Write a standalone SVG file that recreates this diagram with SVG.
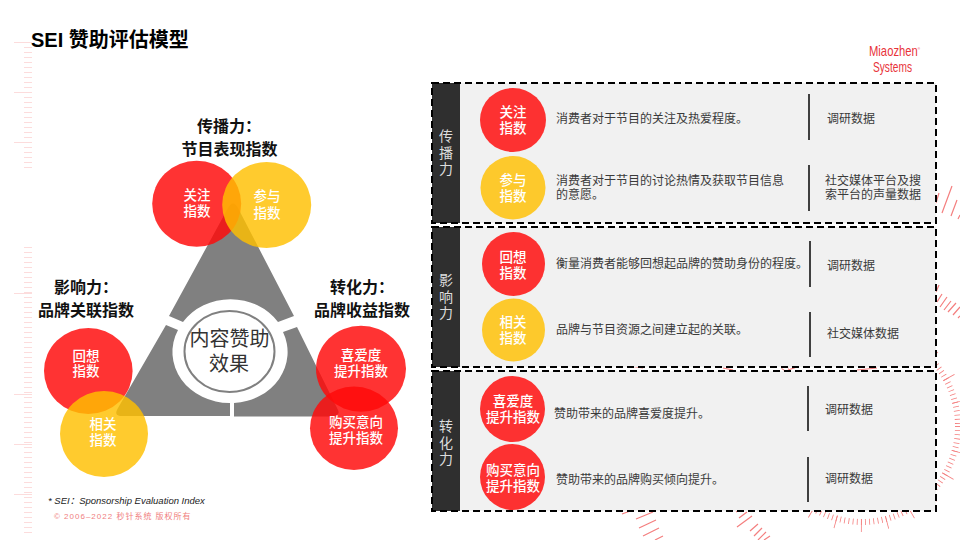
<svg xmlns="http://www.w3.org/2000/svg" width="960" height="540" viewBox="0 0 960 540">
<style>
text{font-family:"Liberation Sans","Noto Sans CJK SC",sans-serif}
.h{font-size:16px;font-weight:700;fill:#111;text-anchor:middle}
.c{font-size:13.5px;fill:#fff;text-anchor:middle;font-weight:500}
.b{font-size:12px;fill:#3a3a3a}
.side{font-size:14px;fill:#ddd;text-anchor:middle}
.panel{fill:#f1f1f1}
.band{fill:#2f2f2f}
.dash{fill:none;stroke:#000;stroke-width:2;stroke-dasharray:7 4}
.bar{stroke:#404040;stroke-width:2;fill:none}
.r{fill:#ff0a0a;fill-opacity:.83}
.y{fill:#ffbf00;fill-opacity:.82}
.tick{fill:none;stroke:#f47f7f}
</style>
<rect width="960" height="540" fill="#fff"/>
<g id="decor">
<path d="M28 42V172M28 247V535" fill="none" stroke="#fcdcdc" stroke-width="8" stroke-dasharray="1 4"/>
<path d="M14 42.500H32M14 92.500H32M14 142.500H32M14 293.500H32M14 394.500H32M14 444.500H32M14 494.500H32" fill="none" stroke="#fcdcdc" stroke-width="1"/>
<circle class="tick" cx="862" cy="426" r="96" stroke-width="6" stroke-dasharray="0.8 3.39"/>
<circle class="tick" cx="862" cy="426" r="99.500" stroke-width="13" stroke-dasharray="0.8 25.25"/>
<path class="tick" stroke-width="1.200" d="M622 514L633 510M636 519L653 512M639 528L656 520M643 536L659 528M655 540L663 536M736 512L739 510M739 518L747 512M737 527L752 516M750 531L758 524M754 536L762 528M758 540L766 532M764 540L770 536M936 203L939 193M942 213L952 186M951 216L957 200M958 219L960 215M936 292L939 285M937 302L942 294M940 307L947 297M944 310L951 301M948 312L956 303M953 315L960 307M958 318L960 316M630 366L643 368M723 368L733 370M788 370L797 367M857 370L877 368"/>
</g>
<g id="title"><text x="31" y="47" font-size="20" font-weight="700" fill="#000">SEI 赞助评估模型</text></g>
<g id="logo" fill="#e8333a"><text x="869" y="56" font-size="15" textLength="51" lengthAdjust="spacingAndGlyphs">Miaozhen<tspan font-size="4" dy="-6">®</tspan></text><text x="873" y="72" font-size="15" textLength="39" lengthAdjust="spacingAndGlyphs">Systems</text></g>
<g id="triangle" fill="#808080">
<path d="M169 316L228 208Q233 199 238 208L294 316L278 322A57 51 0 0 0 183 322Z"/>
<path d="M166 325L178 330A57 51 0 0 0 230 403V416H122Q113 416 118 408Z"/>
<path d="M297 327L283 332A57 51 0 0 1 234 403V416.500H330Q341 416 338 410Z"/>
</g>
<g id="center"><ellipse cx="229.500" cy="351.500" rx="45" ry="40.500" fill="#fff" stroke="#808080" stroke-width="2"/><text x="229.500" y="346" font-size="20" fill="#333" text-anchor="middle">内容赞助</text><text x="229" y="371" font-size="20" fill="#333" text-anchor="middle">效果</text></g>
<g id="left-labels">
<text class="h" x="229" y="132">传播力：</text><text class="h" x="229.500" y="155">节目表现指数</text>
<text class="h" x="86" y="293">影响力：</text><text class="h" x="86" y="316">品牌关联指数</text>
<text class="h" x="362" y="293">转化力：</text><text class="h" x="362" y="316">品牌收益指数</text>
</g>
<g id="n1"><ellipse class="r" cx="196.700" cy="203.700" rx="44.500" ry="43"/><text class="c" x="197" y="200">关注</text><text class="c" x="197" y="216">指数</text></g>
<g id="n2"><ellipse class="y" cx="266.700" cy="205" rx="44.500" ry="43"/><text class="c" x="267" y="201">参与</text><text class="c" x="267" y="218">指数</text></g>
<g id="n3"><ellipse class="r" cx="88.300" cy="371" rx="44.300" ry="43"/><text class="c" x="86" y="361">回想</text><text class="c" x="86" y="376">指数</text></g>
<g id="n4"><ellipse class="y" cx="104" cy="434" rx="44" ry="43"/><text class="c" x="103" y="429">相关</text><text class="c" x="103" y="445">指数</text></g>
<g id="n5"><ellipse class="r" cx="361" cy="368.700" rx="45" ry="43"/><text class="c" x="361" y="360">喜爱度</text><text class="c" x="361" y="376">提升指数</text></g>
<g id="n6"><ellipse class="r" cx="354" cy="428.300" rx="44" ry="41.700"/><text class="c" x="356" y="427">购买意向</text><text class="c" x="356" y="443">提升指数</text></g>
<g id="sections">
<rect class="panel" x="432" y="83" width="504" height="140"/><rect class="band" x="432" y="83" width="28" height="140"/><rect class="dash" x="432" y="83" width="504" height="140"/>
<rect class="panel" x="432" y="227" width="504" height="140"/><rect class="band" x="432" y="227" width="28" height="140"/><rect class="dash" x="432" y="227" width="504" height="140"/>
<rect class="panel" x="432" y="371" width="504" height="140"/><rect class="band" x="432" y="371" width="28" height="140"/><rect class="dash" x="432" y="371" width="504" height="140"/>
<text class="side" x="446" y="141">传</text><text class="side" x="446" y="158">播</text><text class="side" x="446" y="174">力</text>
<text class="side" x="446" y="285">影</text><text class="side" x="446" y="302">响</text><text class="side" x="446" y="318">力</text>
<text class="side" x="446" y="431">转</text><text class="side" x="446" y="448">化</text><text class="side" x="446" y="464">力</text>
</g>
<g id="r1"><ellipse class="r" cx="513" cy="120" rx="33" ry="32"/><text class="c" x="513" y="117">关注</text><text class="c" x="513" y="133">指数</text><text class="b" x="556" y="123">消费者对于节目的关注及热爱程度。</text><text class="b" x="827" y="123">调研数据</text></g>
<g id="r2"><ellipse class="y" cx="513" cy="187.700" rx="32.500" ry="31.700"/><text class="c" x="513" y="185">参与</text><text class="c" x="513" y="201">指数</text><text class="b" x="556" y="185">消费者对于节目的讨论热情及获取节目信息</text><text class="b" x="556" y="199">的意愿。</text><text class="b" x="825" y="185">社交媒体平台及搜</text><text class="b" x="825" y="199">索平台的声量数据</text></g>
<g id="r3"><ellipse class="r" cx="513.500" cy="264" rx="31.500" ry="32"/><text class="c" x="513" y="262">回想</text><text class="c" x="513" y="278">指数</text><text class="b" x="556" y="268">衡量消费者能够回想起品牌的赞助身份的程度。</text><text class="b" x="827" y="270">调研数据</text></g>
<g id="r4"><ellipse class="y" cx="513.500" cy="330" rx="31.500" ry="31.500"/><text class="c" x="513" y="327">相关</text><text class="c" x="513" y="343">指数</text><text class="b" x="556" y="334">品牌与节目资源之间建立起的关联。</text><text class="b" x="827" y="338">社交媒体数据</text></g>
<g id="r5"><ellipse class="r" cx="512.500" cy="409" rx="32.500" ry="33"/><text class="c" x="513" y="406">喜爱度</text><text class="c" x="513" y="422">提升指数</text><text class="b" x="554" y="418">赞助带来的品牌喜爱度提升。</text><text class="b" x="825" y="414">调研数据</text></g>
<g id="r6"><ellipse class="r" cx="512.500" cy="477" rx="32.500" ry="33"/><text class="c" x="513" y="475">购买意向</text><text class="c" x="513" y="491">提升指数</text><text class="b" x="556" y="484">赞助带来的品牌购买倾向提升。</text><text class="b" x="825" y="483">调研数据</text></g>
<g id="connectors"><path class="bar" d="M809 94V140M809 165V211M810 241V287M810 312V357M808 386V431M808 457V502"/></g>
<g id="footer"><text x="48" y="504" font-size="9.500" font-style="italic" fill="#222">* SEI：Sponsorship Evaluation Index</text><text x="54" y="519" font-size="8" letter-spacing="1" fill="#f08080">© 2006–2022 秒针系统 版权所有</text></g>
</svg>
